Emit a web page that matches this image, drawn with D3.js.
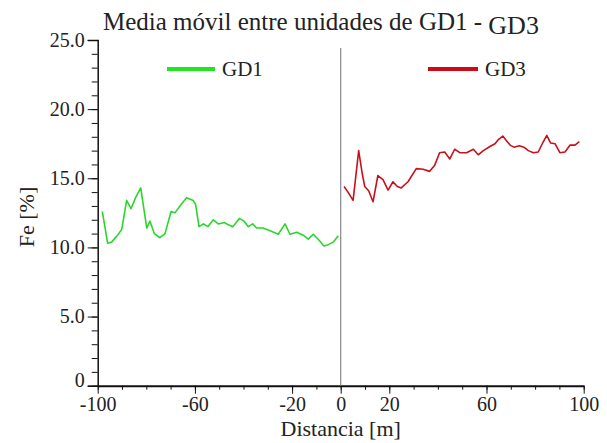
<!DOCTYPE html>
<html>
<head>
<meta charset="utf-8">
<script src="https://cdn.jsdelivr.net/npm/d3@7"></script>
<style>
  body { margin: 0; background: #fff; }
  svg text { font-family: "Liberation Serif", "Times New Roman", Tinos, "DejaVu Serif", serif; fill: #222; }
  .axis path, .axis line { stroke: #111; }
</style>
</head>
<body>
<div id="chart"></div>
<script>
// distances (m) and Fe (%)
const gd1Dist = [-98.1, -95.9, -94.2, -92.2, -90.1, -88.1, -86.3, -84.4, -82.3, -79.8, -78.5, -76.7,
  -74.4, -72.3, -69.8, -68.2, -65.7, -63.4, -60.7, -59.7, -58.3, -56.5, -54.7, -52.4, -50.4, -47.9,
  -46.9, -44.4, -41.7, -39.8, -38.0, -36.2, -34.6, -31.9, -29.1, -25.7, -22.9, -20.9, -18.1, -15.6,
  -13.3, -11.3, -8.8, -6.9, -5.1, -3.0, -1.0];
const gd1Fe = [12.6, 10.3, 10.4, 10.8, 11.3, 13.4, 12.8, 13.6, 14.3, 11.4, 11.9, 11.0,
  10.7, 11.0, 12.6, 12.5, 13.1, 13.6, 13.4, 13.1, 11.5, 11.7, 11.5, 12.0, 11.7, 11.8,
  11.7, 11.5, 12.1, 11.9, 11.5, 11.7, 11.4, 11.4, 11.2, 10.95, 11.7, 10.95, 11.1, 10.9,
  10.6, 10.95, 10.5, 10.1, 10.2, 10.4, 10.85];

const gd3Dist = [1.4, 3.0, 5.1, 7.4, 8.8, 9.9, 11.5, 13.3, 15.3, 17.4, 19.5, 21.5, 23.3, 24.9,
  27.7, 31.1, 33.9, 36.6, 38.7, 40.7, 42.8, 44.9, 46.9, 49.0, 51.8, 54.6, 56.6, 58.7, 61.4, 63.5,
  64.9, 66.7, 68.3, 69.7, 71.3, 73.5, 75.4, 77.2, 79.3, 81.3, 83.1, 84.8, 86.4, 88.2, 90.2, 92.3,
  94.4, 96.4, 98.2];
const gd3Fe = [14.4, 14.0, 13.4, 17.0, 15.4, 14.4, 14.1, 13.3, 15.2, 14.9, 14.15, 14.75, 14.4, 14.3,
  14.75, 15.7, 15.65, 15.5, 15.95, 16.85, 16.9, 16.4, 17.1, 16.85, 16.85, 17.1, 16.7, 17.0, 17.3, 17.5,
  17.8, 18.05, 17.7, 17.4, 17.25, 17.35, 17.25, 17.0, 16.85, 16.9, 17.55, 18.1, 17.55, 17.5, 16.85, 16.9,
  17.4, 17.4, 17.65];

const yMajor = [0, 5, 10, 15, 20, 25];
const xLabelled = [-100, -60, -20, 0, 20, 60, 100];

const W = 607, H = 443;
const margin = { left: 97.7, right: 23.3, top: 40, bottom: 57.3 };
const width = W - margin.left - margin.right;
const height = H - margin.top - margin.bottom;
const serif = '"Liberation Serif", "Times New Roman", Tinos, "DejaVu Serif", serif';

const svg = d3.select("#chart").append("svg")
    .attr("width", W)
    .attr("height", H);
const g = svg.append("g")
    .attr("transform", "translate(" + margin.left + "," + margin.top + ")");

const x = d3.scaleLinear().domain([-100, 100]).range([0, width]);
const y = d3.scaleLinear().domain([0, 25]).range([height, 0]);

// minor ticks first, then labelled ones on top
g.append("g").attr("class", "axis")
    .call(d3.axisLeft(y).tickValues(d3.range(0, 26, 1)).tickSize(6).tickFormat(""))
    .call(a => a.select(".domain").remove());
g.append("g").attr("class", "axis")
    .attr("font-family", serif)
    .call(d3.axisLeft(y).tickValues(yMajor).tickSize(10).tickPadding(3)
      .tickFormat(d => d === 0 ? "0" : d.toFixed(1)))
    .call(a => a.select(".domain").attr("stroke-width", 1.5))
    .call(a => a.selectAll("text").attr("font-size", 20).attr("fill", "#222")
      .filter(d => d === 0).attr("dy", "0.05em"));

g.append("g").attr("class", "axis")
    .attr("transform", "translate(0," + height + ")")
    .call(d3.axisBottom(x).tickValues(d3.range(-100, 101, 10)).tickSize(4).tickFormat(""))
    .call(a => a.select(".domain").remove());
g.append("g").attr("class", "axis")
    .attr("font-family", serif)
    .attr("transform", "translate(0," + height + ")")
    .call(d3.axisBottom(x).tickValues(xLabelled).tickSize(8).tickSizeOuter(0).tickPadding(3)
      .tickFormat(d => String(d)))
    .call(a => a.select(".domain").attr("stroke-width", 2))
    .call(a => a.selectAll("text").attr("font-size", 20).attr("fill", "#222"));

// divider at 0 m
g.append("line")
    .attr("x1", x(0)).attr("x2", x(0))
    .attr("y1", 8).attr("y2", height)
    .attr("stroke", "#888").attr("stroke-width", 1.2);

const line = d3.line().x(d => x(d[0])).y(d => y(d[1]));
g.append("path")
    .datum(d3.zip(gd1Dist, gd1Fe))
    .attr("d", line)
    .attr("fill", "none").attr("stroke", "#2bd62b").attr("stroke-width", 1.6)
    .attr("stroke-linejoin", "round");
g.append("path")
    .datum(d3.zip(gd3Dist, gd3Fe))
    .attr("d", line)
    .attr("fill", "none").attr("stroke", "#c8101c").attr("stroke-width", 1.6)
    .attr("stroke-linejoin", "round");

// legend
const legend = [
  { name: "GD1", color: "#22e522", x0: 167, x1: 215 },
  { name: "GD3", color: "#d00a14", x0: 428, x1: 478 }
];
legend.forEach(l => {
  svg.append("line")
      .attr("x1", l.x0).attr("x2", l.x1).attr("y1", 69).attr("y2", 69)
      .attr("stroke", l.color).attr("stroke-width", 4);
  svg.append("text")
      .attr("x", l.x1 + 7).attr("y", 76)
      .attr("font-family", serif)
      .attr("font-size", 21)
      .text(l.name);
});

// title
const title = svg.append("text")
    .attr("x", 103).attr("y", 30)
    .attr("font-family", serif)
    .attr("font-size", 25);
title.append("tspan").text("Media móvil entre unidades de GD1 - ");
title.append("tspan").attr("dy", 4).attr("font-size", 26).text("GD3");

svg.append("text")
    .attr("x", margin.left + x(0)).attr("y", 436)
    .attr("font-family", serif)
    .attr("text-anchor", "middle").attr("font-size", 22)
    .text("Distancia [m]");

svg.append("text")
    .attr("transform", "translate(34," + 217 + ") rotate(-90)")
    .attr("font-family", serif)
    .attr("text-anchor", "middle").attr("font-size", 22)
    .text("Fe [%]");
</script>
</body>
</html>
